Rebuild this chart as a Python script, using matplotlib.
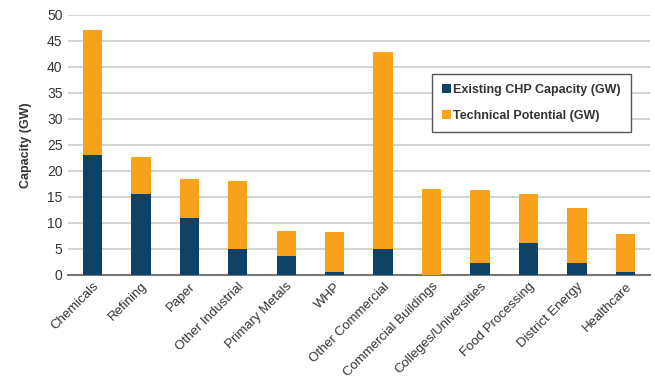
import matplotlib
matplotlib.use("Agg")
import matplotlib.pyplot as plt
import numpy as np

categories = ["Chemicals", "Refining", "Paper", "Other Industrial", "Primary Metals", "WHP",
              "Other Commercial", "Commercial Buildings", "Colleges/Universities",
              "Food Processing", "District Energy", "Healthcare"]
existing = [23.0, 15.6, 10.9, 4.9, 3.7, 0.5, 4.9, 0.0, 2.2, 6.2, 2.2, 0.5]
total = [47.0, 22.6, 18.4, 18.0, 8.5, 8.2, 42.8, 16.5, 16.3, 15.5, 12.8, 7.8]
technical = [t - e for t, e in zip(total, existing)]

plt.rcParams["font.family"] = ["Liberation Sans", "DejaVu Sans"]
navy, orange = "#0c4266", "#f8a21c"

fig = plt.figure(figsize=(6.55, 3.91), dpi=100)
ax = fig.add_axes([0.104, 0.297, 0.888, 0.665])
x = np.arange(len(categories))
ax.bar(x, existing, width=0.4, color=navy, label="Existing CHP Capacity (GW)", zorder=3)
ax.bar(x, technical, width=0.4, bottom=existing, color=orange, label="Technical Potential (GW)", zorder=3)

ax.set_xlim(-0.5, len(categories) - 0.5)
ax.set_ylim(0, 50)
ax.set_yticks(range(0, 51, 5))
ax.yaxis.grid(True, color="#d4d4d4", lw=1.5, zorder=0)
for s in ["left", "right", "top"]:
    ax.spines[s].set_visible(False)
ax.spines["bottom"].set_color("#777777")
ax.spines["bottom"].set_linewidth(1.5)
ax.tick_params(length=0, labelsize=10, colors="#333333", pad=4)
ax.set_xticks(x)
ax.set_xticklabels(categories, rotation=45, ha="right", rotation_mode="anchor", fontsize=9.5)
ax.set_ylabel("Capacity (GW)", fontsize=9, fontweight="bold", color="#333333", labelpad=11)

leg = ax.legend(loc="upper left", bbox_to_anchor=(0.615, 0.796), fontsize=9, frameon=True,
                fancybox=False, edgecolor="#555555", handlelength=0.7, handleheight=0.7,
                handletextpad=0.2, labelspacing=1.1, borderpad=0.8, labelcolor="#333333",
                framealpha=1)
leg.get_frame().set_linewidth(1.0)
for t in leg.get_texts():
    t.set_fontweight("bold")

fig.savefig("out.png", dpi=100)
